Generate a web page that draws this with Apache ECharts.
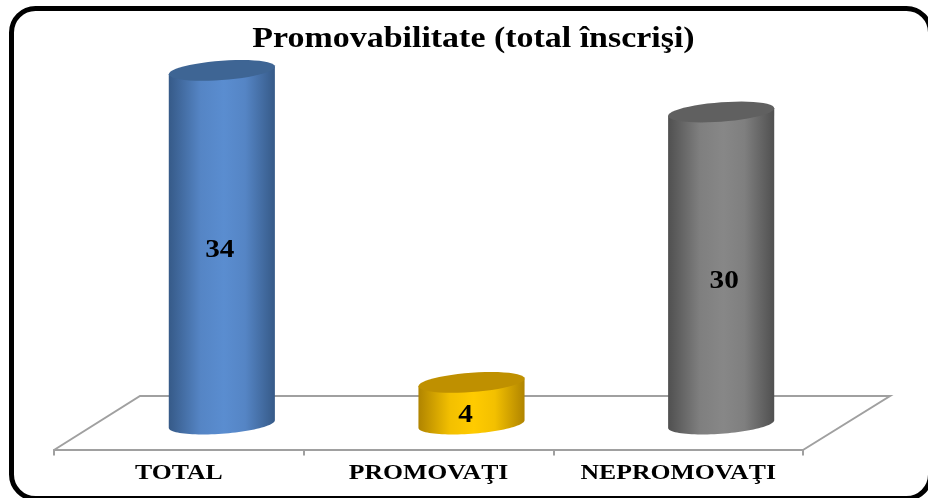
<!DOCTYPE html>
<html>
<head>
<meta charset="utf-8">
<title>Promovabilitate</title>
<script src="https://cdn.jsdelivr.net/npm/echarts@6/dist/echarts.min.js"></script>
<style>
html, body { margin: 0; padding: 0; background: #fff; }
#chart { width: 928px; height: 498px; }
</style>
</head>
<body>
<div id="chart"></div>
<script>
var chartTitle = "Promovabilitate (total înscrişi)";
var categories = ["TOTAL", "PROMOVAŢI", "NEPROMOVAŢI"];
var values = [34, 4, 30];

// edge, centre, top face
var barColors = [
	["#365a88", "#5a8dd0", "#3e6594"],
	["#b08400", "#ffcb00", "#bf9000"],
	["#505050", "#878787", "#606060"]
];
// the labels do not sit quite in the middle of the cylinders
var labelNudge = [[-2, 3], [-6, 12], [3, 14]];

var yMin = -2.45;
var depth = 43;     // cylinders stand in the middle of the floor, not over the axis
var slope = 0.072;  // the ellipses lean up to the right
var ry = 9.7;
var stretch = 1.17; // all the text in the picture is pulled wider

function ellipsePoints(cx, cy, rx, from, to) {
	var pts = [];
	for (var i = 0; i <= 48; i++) {
		var t = from + (to - from) * i / 48;
		var dx = rx * Math.cos(t);
		pts.push([cx + dx, cy + ry * Math.sin(t) - dx * slope]);
	}
	return pts;
}

function renderCylinder(params, api) {
	var i = api.value(0);
	var top = api.coord([i, api.value(1)]);
	var base = api.coord([i, 0]);
	var mid = api.coord([i, api.value(1) / 2]);
	var axisPos = api.coord([i, yMin]);
	var rx = api.size([1, 0])[0] * 0.2125;
	var cols = barColors[i];
	var nudge = labelNudge[i];
	var cx = top[0] + depth;
	var shoulder = echarts.color.lerp(0.85, [cols[0], cols[1]]);

	// body: down the left side, along the front of the base, back up the right
	var body = ellipsePoints(cx, base[1], rx, Math.PI, 0);
	body.push([cx + rx, top[1] - rx * slope]);
	body.push([cx - rx, top[1] + rx * slope]);

	return {
		type: "group",
		children: [
			{
				type: "polygon",
				shape: { points: body },
				style: {
					fill: new echarts.graphic.LinearGradient(0, 0, 1, 0, [
						{ offset: 0, color: cols[0] },
						{ offset: 0.3, color: shoulder },
						{ offset: 0.52, color: cols[1] },
						{ offset: 0.72, color: shoulder },
						{ offset: 1, color: cols[0] }
					])
				}
			},
			{
				type: "polygon",
				shape: { points: ellipsePoints(cx, top[1], rx, 0, Math.PI * 2) },
				style: { fill: cols[2] }
			},
			{
				type: "text",
				x: cx + nudge[0],
				y: mid[1] + nudge[1],
				scaleX: stretch,
				style: {
					text: String(api.value(1)),
					fill: "#000",
					font: "bold 25px 'Liberation Serif'",
					align: "center",
					verticalAlign: "middle"
				}
			},
			{
				type: "text",
				x: axisPos[0],
				y: axisPos[1] + 24,
				scaleX: stretch,
				style: {
					text: categories[i],
					fill: "#000",
					font: "bold 22px 'Liberation Serif'",
					align: "center",
					verticalAlign: "middle"
				}
			}
		]
	};
}

var myChart = echarts.init(document.getElementById("chart"));

var seriesData = [];
for (var i = 0; i < values.length; i++) {
	seriesData.push([i, values[i]]);
}

var option = {
	animation: false,
	backgroundColor: "#fff",
	grid: { left: 54, right: 125, top: 60, height: 389.5 },
	xAxis: {
		type: "category",
		data: categories,
		axisLine: { onZero: false, lineStyle: { color: "#a0a0a0", width: 2 } },
		axisTick: { show: true, alignWithLabel: false, length: 6, lineStyle: { color: "#a0a0a0", width: 2 } },
		axisLabel: { show: false }
	},
	yAxis: {
		type: "value",
		show: false,
		min: yMin,
		max: 35,
		splitLine: { show: false }
	},
	series: [
		{
			type: "custom",
			renderItem: renderCylinder,
			data: seriesData,
			encode: { x: 0, y: 1 },
			clip: false
		}
	],
	graphic: [
		{
			type: "polyline",
			z: 0,
			shape: { points: [[54, 450], [140, 396], [890, 396], [803, 450]] },
			style: { stroke: "#a0a0a0", lineWidth: 2, fill: "none" }
		},
		{
			type: "text",
			x: 473.5,
			y: 40,
			scaleX: stretch,
			style: {
				text: chartTitle,
				fill: "#000",
				font: "bold 29px 'Liberation Serif'",
				align: "center",
				verticalAlign: "middle"
			}
		},
		{
			type: "rect",
			z: 10,
			shape: { x: 11.5, y: 8.5, width: 919, height: 490, r: 24 },
			style: { stroke: "#000", lineWidth: 5, fill: "none" }
		}
	]
};

myChart.setOption(option);
</script>
</body>
</html>
